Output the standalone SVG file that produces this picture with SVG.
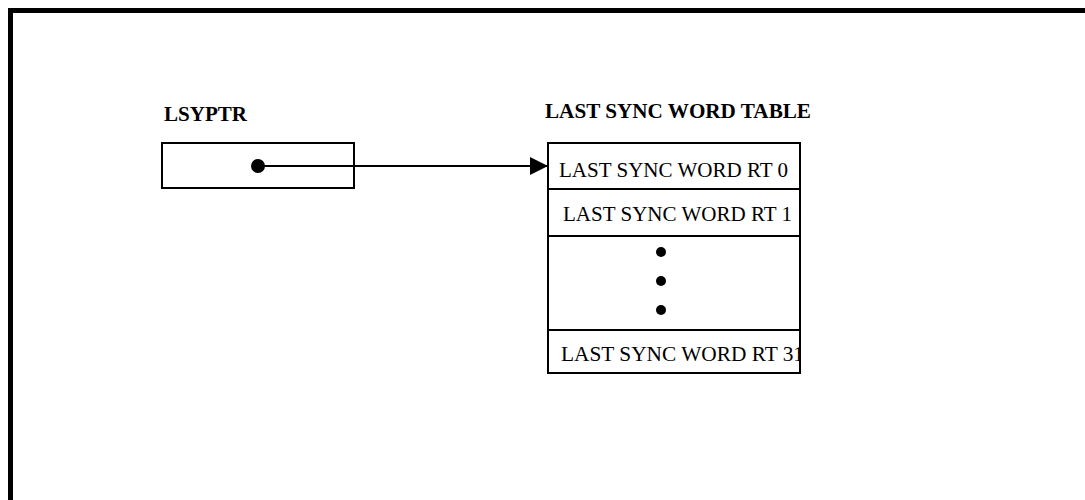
<svg xmlns="http://www.w3.org/2000/svg" width="1085" height="500" viewBox="0 0 1085 500">
<defs>
<style>
.box{fill:#fff;stroke:#000;stroke-width:2}
.lbl{font-family:"Liberation Serif","Times New Roman",serif;font-weight:bold;fill:#000}
.row{font-family:"Liberation Serif","Times New Roman",serif;font-size:21.5px;fill:#000}
.dot{fill:#000}
</style>
<marker id="arr" markerWidth="18" markerHeight="18" viewBox="0 0 18 18" refX="18" refY="9" markerUnits="userSpaceOnUse" orient="auto">
<polygon points="0,0 18,9 0,18" fill="#000"/>
</marker>
<clipPath id="cellclip"><rect x="548" y="330" width="252" height="43"/></clipPath>
</defs>
<rect width="1085" height="500" fill="#fff"/>
<rect id="frame" x="10.5" y="10.5" width="1090" height="500" fill="none" stroke="#000" stroke-width="5"/>
<g id="lsyptr">
<text class="lbl" x="164" y="121" font-size="20.5" textLength="83" lengthAdjust="spacingAndGlyphs">LSYPTR</text>
<rect class="box" x="162" y="143" width="192" height="45"/>
<circle class="dot" cx="258" cy="166" r="7"/>
</g>
<g id="table">
<text class="lbl" x="545" y="118" font-size="20.5" textLength="266" lengthAdjust="spacingAndGlyphs">LAST SYNC WORD TABLE</text>
<rect class="box" x="548" y="143" width="252" height="46"/>
<text class="row" x="559" y="177" textLength="229" lengthAdjust="spacingAndGlyphs">LAST SYNC WORD RT 0</text>
<rect class="box" x="548" y="189" width="252" height="47"/>
<text class="row" x="563" y="221" textLength="229" lengthAdjust="spacingAndGlyphs">LAST SYNC WORD RT 1</text>
<rect class="box" x="548" y="236" width="252" height="94"/>
<circle class="dot" cx="661" cy="252" r="5"/>
<circle class="dot" cx="661" cy="281" r="5"/>
<circle class="dot" cx="661" cy="310" r="5"/>
<rect class="box" x="548" y="330" width="252" height="43"/>
<text class="row" x="561" y="361" textLength="243" lengthAdjust="spacingAndGlyphs" clip-path="url(#cellclip)">LAST SYNC WORD RT 31</text>
<line x1="800" y1="330" x2="800" y2="373" stroke="#000" stroke-width="2"/>
</g>
<g id="connectors">
<line x1="258" y1="166" x2="548" y2="166" stroke="#000" stroke-width="2" marker-end="url(#arr)"/>
</g>
</svg>
